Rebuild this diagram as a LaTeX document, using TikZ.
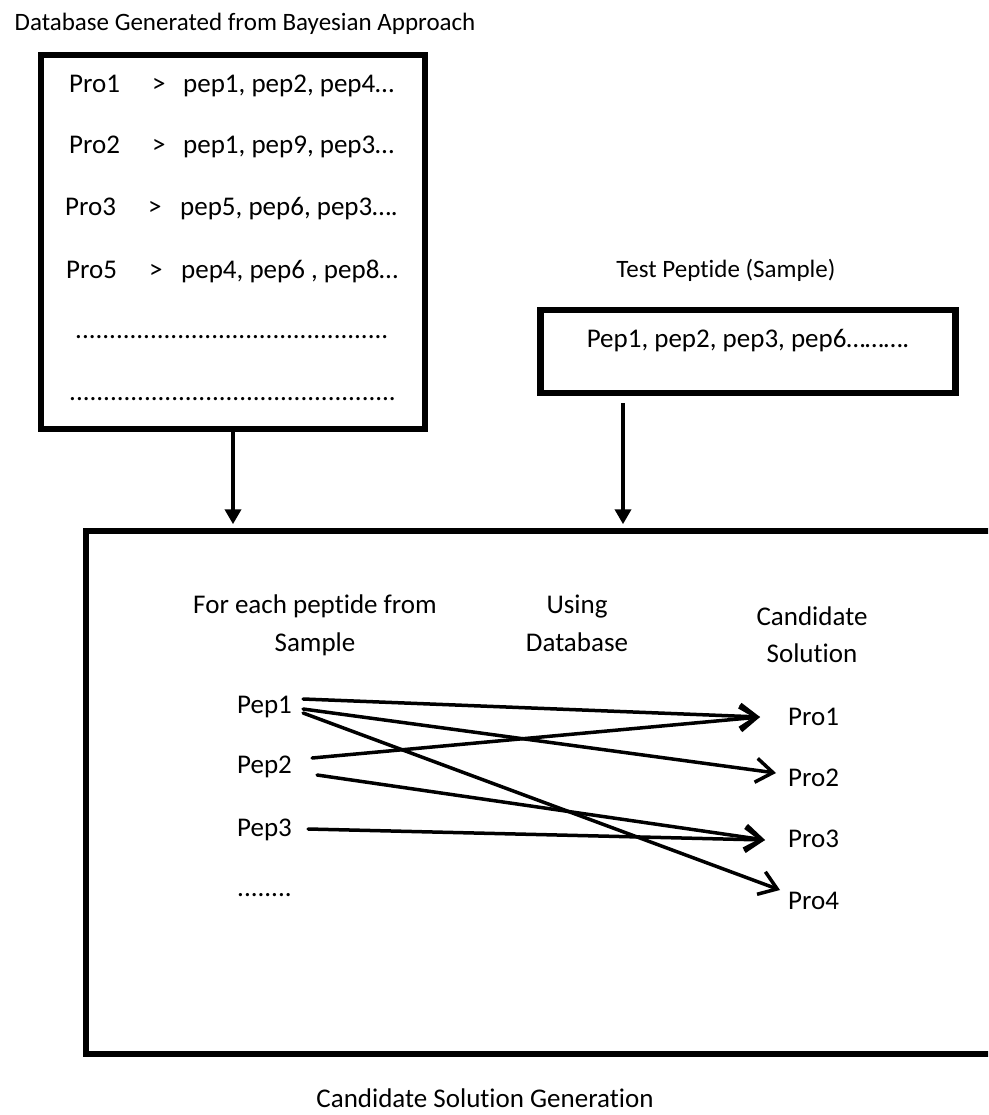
\documentclass[tikz,border=0pt]{standalone}
\usepackage{fontspec}
\setmainfont{Carlito}[Ligatures=NoCommon]
\usetikzlibrary{arrows.meta}

\begin{document}
\begin{tikzpicture}[x=1pt,y=-1pt,
  txt/.style={inner sep=0pt, font=\fontsize{27}{32}\selectfont},
  headtxt/.style={inner sep=0pt, font=\fontsize{25}{30}\selectfont},
  heavybox/.style={draw, rectangle, line width=6.5pt, inner sep=0pt},
  feed/.style={line width=4pt, -{Triangle[length=15pt,width=16pt]}},
  link/.style={line width=3.5pt, line cap=round, -{Straight Barb[length=17pt,width=24pt]}},
]
\useasboundingbox (0,0) rectangle (988,1115);
\clip (0,0) rectangle (988,1115);
\fill[white] (0,0) rectangle (988,1115);

% --- database box ---
\node[headtxt, anchor=base] (dbtitle) at (245,31) {Database Generated from Bayesian Approach};
\node[heavybox, minimum width=384pt, minimum height=374pt] (db) at (233,242) {};

\node[txt, anchor=base west] (r1a) at (69,93) {Pro1};
\node[txt, anchor=base west] (r1b) at (152,93) {>};
\node[txt, anchor=base west] (r1c) at (183,93) {pep1, pep2, pep4…};
\node[txt, anchor=base west] (r2a) at (69,154) {Pro2};
\node[txt, anchor=base west] (r2b) at (152,154) {>};
\node[txt, anchor=base west] (r2c) at (183,154) {pep1, pep9, pep3…};
\node[txt, anchor=base west] (r3a) at (65,216) {Pro3};
\node[txt, anchor=base west] (r3b) at (148,216) {>};
\node[txt, anchor=base west] (r3c) at (180,216) {pep5, pep6, pep3….};
\node[txt, anchor=base west] (r4a) at (66,278) {Pro5};
\node[txt, anchor=base west] (r4b) at (149,278) {>};
\node[txt, anchor=base west] (r4c) at (181,278) {pep4, pep6 , pep8…};
\node[txt, anchor=base west] (dots1) at (75,338) {..............................................};
\node[txt, anchor=base west] (dots2) at (69,400) {................................................};

% --- sample box ---
\node[headtxt, anchor=base] (smtitle) at (726,277) {Test Peptide (Sample)};
\node[heavybox, minimum width=415pt, minimum height=83pt] (test) at (748,351.5) {};
\node[txt, anchor=base] (sample) at (748,347) {Pep1, pep2, pep3, pep6……….};

% --- candidate generation box ---
\node[heavybox, minimum width=924pt, minimum height=523pt] (main) at (548,792.5) {};
\node[txt, anchor=base] (h1a) at (315,613) {For each peptide from};
\node[txt, anchor=base] (h1b) at (315,651) {Sample};
\node[txt, anchor=base] (h2a) at (577,613) {Using};
\node[txt, anchor=base] (h2b) at (577,651) {Database};
\node[txt, anchor=base] (h3a) at (812,625) {Candidate};
\node[txt, anchor=base] (h3b) at (812,662) {Solution};

\node[txt, anchor=base west] (p1) at (237,713) {Pep1};
\node[txt, anchor=base west] (p2) at (237,773) {Pep2};
\node[txt, anchor=base west] (p3) at (237,836) {Pep3};
\node[txt, anchor=base west] (pd) at (237,896) {........};

\node[txt, anchor=base west] (q1) at (788,725) {Pro1};
\node[txt, anchor=base west] (q2) at (788,786) {Pro2};
\node[txt, anchor=base west] (q3) at (788,847) {Pro3};
\node[txt, anchor=base west] (q4) at (788,909) {Pro4};

\node[txt, anchor=base] (gentitle) at (485,1107) {Candidate Solution Generation};

% --- feeds into the generation box ---
\draw[feed, shorten >=3.5pt] (db.south) -- (main.north -| db.south);
\draw[feed, shorten <=7pt, shorten >=3.5pt] ([xshift=-125pt]test.south) -- ([xshift=-125pt]test.south |- main.north);

% --- peptide to protein links ---
\draw[link] ([shift={(11,-14)}]p1.base east) -- ([shift={(-28,-8)}]q1.base west);
\draw[link] ([shift={(11,-4)}]p1.base east) -- ([shift={(-12,-13)}]q2.base west);
\draw[link] ([shift={(11,0)}]p1.base east) -- ([shift={(-8,-19)}]q4.base west);
\draw[link] ([shift={(20,-15)}]p2.base east) -- ([shift={(-28,-8)}]q1.base west);
\draw[link] ([shift={(25,2)}]p2.base east) -- ([shift={(-23,-7)}]q3.base west);
\draw[link] ([shift={(16,-7)}]p3.base east) -- ([shift={(-23,-7)}]q3.base west);
\end{tikzpicture}
\end{document}
